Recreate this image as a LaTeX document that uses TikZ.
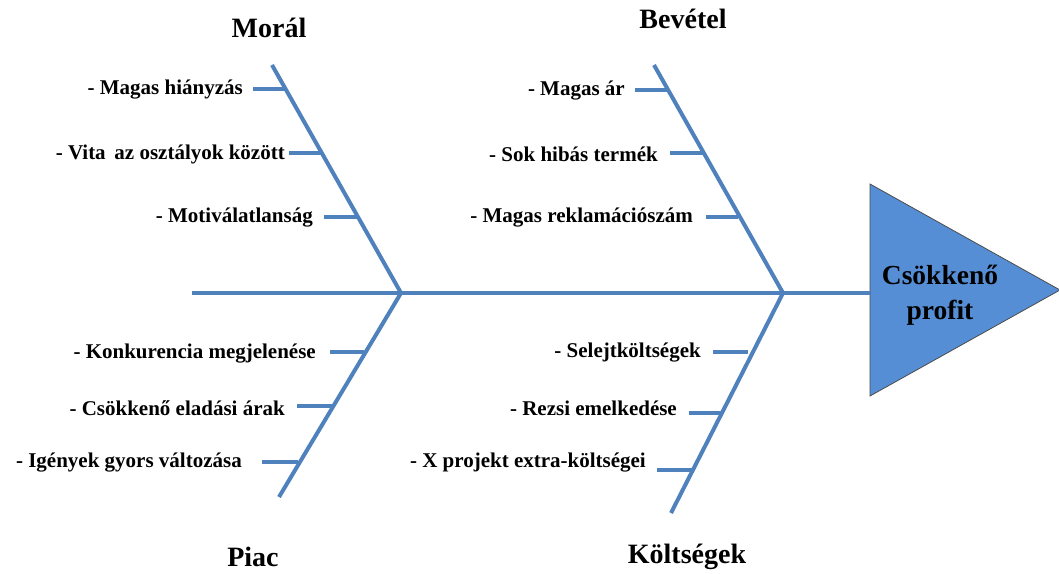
\documentclass[tikz,border=0pt]{standalone}
\usepackage{fontspec}
\setmainfont{Liberation Serif}
\begin{document}
\begin{tikzpicture}[x=1pt,y=-1pt,
  bone/.style={draw=boneblue,line width=4pt},
  tick/.style={draw=boneblue,line width=4pt},
  lbl/.style={anchor=east,inner sep=0pt,font=\fontsize{21}{25}\selectfont\bfseries},
  ttl/.style={inner sep=0pt,font=\fontsize{28}{32}\selectfont\bfseries}]
\definecolor{boneblue}{HTML}{4F81BD}
\definecolor{headblue}{HTML}{558ED5}
\useasboundingbox (0,0) rectangle (1059,573);
% head
\coordinate (hT) at (870,184);
\coordinate (hB) at (870,396);
\coordinate (hA) at (1060,290);
\fill[headblue] (hT) -- (hA) -- (hB) -- cycle;
\draw[black!70,line width=0.8pt] (hT) -- (hA) -- (hB) -- cycle;
\node[inner sep=0pt,align=center,font=\fontsize{27.5}{35}\selectfont\bfseries] (head) at (940,295) {Csökkenő\\profit};
% spine
\coordinate (sL) at (192,293);
\coordinate (j1) at (401,293);
\coordinate (j2) at (783,293);
\coordinate (sR) at (870,293);
\draw[bone] (sL) -- (sR);
% bone ends
\coordinate (ulT) at (272,65);
\coordinate (urT) at (654,65);
\coordinate (llB) at (279,497);
\coordinate (lrB) at (671,513);
\draw[bone] (ulT) -- (j1) -- (llB);
\draw[bone] (urT) -- (j2) -- (lrB);
% titles
\node[ttl] (moral) at (269,28) {Morál};
\node[ttl] (bevetel) at (683,19) {Bevétel};
\node[ttl] (piac) at (253,557) {Piac};
\node[ttl] (koltseg) at (687,557) {Költségek};
% upper-left
\coordinate (a1s) at (253,89);  \coordinate (a1e) at (287,89);
\coordinate (a2s) at (289,153); \coordinate (a2e) at (322,153);
\coordinate (a3s) at (324,217); \coordinate (a3e) at (357,217);
\draw[tick] (a1s) -- (a1e);
\draw[tick] (a2s) -- (a2e);
\draw[tick] (a3s) -- (a3e);
\node[lbl] (la1) at (243,90) {- Magas hiányzás};
\node[lbl] (la2) at (285,154) {- Vita\, az osztályok között};
\node[lbl] (la3) at (313,218) {- Motiválatlanság};
% upper-right
\coordinate (b1s) at (635,90);  \coordinate (b1e) at (667,90);
\coordinate (b2s) at (670,153); \coordinate (b2e) at (703,153);
\coordinate (b3s) at (706,217); \coordinate (b3e) at (738,217);
\draw[tick] (b1s) -- (b1e);
\draw[tick] (b2s) -- (b2e);
\draw[tick] (b3s) -- (b3e);
\node[lbl] (lb1) at (625,91) {- Magas ár};
\node[lbl] (lb2) at (658,154) {- Sok hibás termék};
\node[lbl] (lb3) at (693,218) {- Magas reklamációszám};
% lower-left
\coordinate (c1s) at (330,352); \coordinate (c1e) at (364,352);
\coordinate (c2s) at (297,406); \coordinate (c2e) at (333,406);
\coordinate (c3s) at (262,462); \coordinate (c3e) at (298,462);
\draw[tick] (c1s) -- (c1e);
\draw[tick] (c2s) -- (c2e);
\draw[tick] (c3s) -- (c3e);
\node[lbl] (lc1) at (316,354) {- Konkurencia megjelenése};
\node[lbl] (lc2) at (285,408) {- Csökkenő eladási árak};
\node[lbl] (lc3) at (242,463) {- Igények gyors változása};
% lower-right
\coordinate (d1s) at (713,352); \coordinate (d1e) at (748,352);
\coordinate (d2s) at (689,413); \coordinate (d2e) at (722,413);
\coordinate (d3s) at (657,470); \coordinate (d3e) at (693,470);
\draw[tick] (d1s) -- (d1e);
\draw[tick] (d2s) -- (d2e);
\draw[tick] (d3s) -- (d3e);
\node[lbl] (ld1) at (701,353) {- Selejtköltségek};
\node[lbl] (ld2) at (677,408) {- Rezsi emelkedése};
\node[lbl] (ld3) at (646,463) {- X projekt extra-költségei};
\end{tikzpicture}
\end{document}
